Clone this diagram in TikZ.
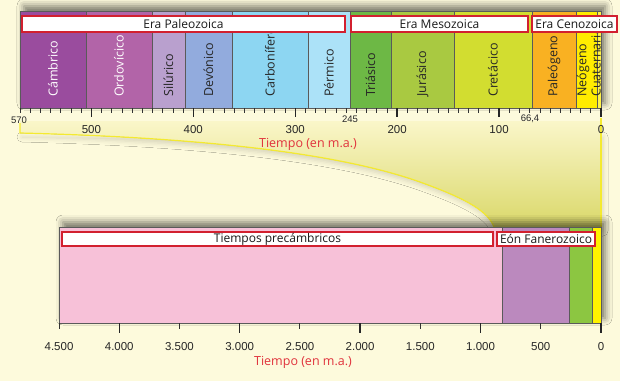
\documentclass[tikz,border=0pt]{standalone}
\usepackage{fontspec}
\setmainfont{Open Sans}
\newfontfamily\numfont{Liberation Sans}
\usetikzlibrary{shadows.blur}
\definecolor{bg}{HTML}{FDFADC}
\definecolor{funtop}{HTML}{FBF7CC}
\definecolor{funbot}{HTML}{DAD86A}
\definecolor{funline}{HTML}{F4EA30}
\definecolor{cCam}{HTML}{9A4C9E}
\definecolor{cOrd}{HTML}{B264A8}
\definecolor{cSil}{HTML}{B9A0CE}
\definecolor{cDev}{HTML}{92ABDD}
\definecolor{cCar}{HTML}{8DD6F2}
\definecolor{cPer}{HTML}{ACE2F8}
\definecolor{cTri}{HTML}{6DB845}
\definecolor{cJur}{HTML}{A9C941}
\definecolor{cCre}{HTML}{D2DD30}
\definecolor{cPal}{HTML}{F9B122}
\definecolor{cNeo}{HTML}{FFEC00}
\definecolor{cCua}{HTML}{FFF34A}
\definecolor{cPre}{HTML}{F7C1D8}
\definecolor{cFan}{HTML}{BB89BE}
\definecolor{cFg}{HTML}{8CC641}
\definecolor{cFy}{HTML}{FFF200}
\definecolor{boxred}{HTML}{D2202F}
\definecolor{txtred}{HTML}{E0323C}
\definecolor{edge}{HTML}{5A5A5A}
\tikzset{
  period/.style={draw=edge, line width=0.6pt, anchor=north west, inner sep=0, outer sep=0},
  vlab/.style={rotate=90, anchor=west, inner sep=0, font=\fontsize{12.5}{13}\selectfont, text=black!85},
  erabox/.style={draw=boxred, line width=1.8pt, fill=white, anchor=north west, inner sep=0, outer sep=0},
  eratxt/.style={inner sep=0, font=\fontsize{12}{13}\selectfont, text=black!90},
  tickmin/.style={draw=black!80, line width=0.7pt},
  tickmaj/.style={draw=black!85, line width=1.3pt},
  num/.style={inner sep=0, font=\numfont\fontsize{11.5}{12}\selectfont, text=black!85},
  numsm/.style={inner sep=0, font=\numfont\fontsize{9.5}{10}\selectfont, text=black!85},
  axtitle/.style={inner sep=0, font=\fontsize{12.5}{13}\selectfont, text=txtred},
  shadowed/.style={blur shadow={shadow xshift=4pt, shadow yshift=5pt, shadow blur radius=7pt, shadow opacity=55}}
}
\begin{document}
\begin{tikzpicture}[x=1pt,y=-1pt]
\useasboundingbox (0,0) rectangle (620,381);
\fill[bg] (0,0) rectangle (620,381);

% funnel
\path[blur shadow={shadow xshift=2pt, shadow yshift=-4pt, shadow blur radius=5pt, shadow opacity=15}]
  (20,133) .. controls (180,137) and (330,150) .. (420,182) .. controls (470,200) and (488,212) .. (494,227) -- (601,227) -- (601,133) -- cycle;
\fill[top color=funtop, bottom color=funbot]
  (20,118) -- (20,133) .. controls (180,137) and (330,150) .. (420,182) .. controls (470,200) and (488,212) .. (494,227) -- (601,227) -- (601,118) -- cycle;
\fill[bg] (0,108) rectangle (601,121);
\coordinate (fA) at (20,123);
\coordinate (fB) at (20,133);
\coordinate (fC) at (494,227);
\coordinate (fD) at (601,118);
\coordinate (fE) at (601,227);
\draw[funline, line width=1.2pt] (fA) -- (fB) .. controls (180,137) and (330,150) .. (420,182) .. controls (470,200) and (488,212) .. (fC);
\draw[funline, line width=1.2pt] (fD) -- (fE);

% top bar
\path[shadowed] (20,11) rectangle (601,108);
\node[period, fill=cCam, minimum width=66, minimum height=97] (cam) at (20,11) {};
\node[period, fill=cOrd, minimum width=66, minimum height=97] (ord) at (86,11) {};
\node[period, fill=cSil, minimum width=33, minimum height=97] (sil) at (152,11) {};
\node[period, fill=cDev, minimum width=47, minimum height=97] (dev) at (185,11) {};
\node[period, fill=cCar, minimum width=76, minimum height=97] (car) at (232,11) {};
\node[period, fill=cPer, minimum width=42, minimum height=97] (per) at (308,11) {};
\node[period, fill=cTri, minimum width=41, minimum height=97] (tri) at (350,11) {};
\node[period, fill=cJur, minimum width=63, minimum height=97] (jur) at (391,11) {};
\node[period, fill=cCre, minimum width=78, minimum height=97] (cre) at (454,11) {};
\node[period, fill=cPal, minimum width=44, minimum height=97] (pal) at (532,11) {};
\node[period, fill=cNeo, minimum width=21, minimum height=97] (neo) at (576,11) {};
\node[period, fill=cCua, minimum width=4, minimum height=97] (cua) at (597,11) {};

\node[vlab, text=white] (lcam) at (53,97) {Cámbrico};
\node[vlab, text=white] (lord) at (119,97) {Ordovícico};
\node[vlab] (lsil) at (168.5,97) {Silúrico};
\node[vlab] (ldev) at (208.5,97) {Devónico};
\node[vlab] (lcar) at (270,97) {Carbonífero};
\node[vlab] (lper) at (329,97) {Pérmico};
\node[vlab] (ltri) at (370.5,97) {Triásico};
\node[vlab] (ljur) at (422.5,97) {Jurásico};
\node[vlab] (lcre) at (493,97) {Cretácico};
\node[vlab] (lpal) at (554,97) {Paleógeno};
\node[vlab] (lneo) at (583,97) {Neógeno};
\node[vlab] (lcua) at (596,97) {Cuaternario};

\node[erabox, minimum width=323, minimum height=16] (paleo) at (22,16) {};
\node[eratxt] at (paleo.center) {Era Paleozoica};
\node[erabox, minimum width=177, minimum height=16] (meso) at (351,16) {};
\node[eratxt] at (meso.center) {Era Mesozoica};
\node[erabox, minimum width=85, minimum height=16] (ceno) at (532,16) {};
\node[eratxt] at (ceno.center) {Era Cenozoica};

% top axis
\foreach \t in {0,10,...,570} \draw[tickmin] ({601-1.01930*\t},108) -- ++(0,5);
\foreach \t in {0,100,...,500} \draw[tickmaj] ({601-1.01930*\t},108) -- ++(0,9);
\foreach \t in {100,200,300,400,500} \node[num] at ({601-1.01930*\t},130) {\t};
\node[num] (z0) at (601,130) {0};
\node[numsm] (n570) at (19,120) {570};
\node[numsm] (n245) at (350,119) {245};
\node[numsm] (n664) at (530,119) {66,4};
\node[axtitle] (t1) at (308,144) {Tiempo (en m.a.)};

% bottom bar
\path[shadowed] (59,227) rectangle (601,323);
\node[period, fill=cPre, minimum width=443, minimum height=96] (pre) at (59,227) {};
\node[period, fill=cFan, minimum width=67, minimum height=96] (fan) at (502,227) {};
\node[period, fill=cFg, minimum width=23, minimum height=96] (fg) at (569,227) {};
\node[period, fill=cFy, minimum width=9, minimum height=96] (fy) at (592,227) {};
\node[erabox, minimum width=431, minimum height=14] (pbox) at (62,232) {};
\node[eratxt] at (pbox.center) {Tiempos precámbricos};
\node[erabox, minimum width=98, minimum height=14] (fbox) at (497,232) {};
\node[eratxt] at (fbox.center) {Eón Fanerozoico};

% bottom axis
\foreach \t in {500,1500,2500,3500,4500} \draw[tickmin, line width=1pt] ({601-0.120444*\t},323) -- ++(0,6);
\foreach \t in {0,1000,2000,3000,4000} \draw[tickmaj, line width=1.5pt] ({601-0.120444*\t},323) -- ++(0,10);
\foreach \t/\l in {4500/4.500,4000/4.000,3500/3.500,3000/3.000,2500/2.500,2000/2.000,1500/1.500,1000/1.000,500/500,0/0}
  \node[num] at ({601-0.120444*\t},347) {\l};
\node[axtitle] (t2) at (303,362) {Tiempo (en m.a.)};
\end{tikzpicture}
\end{document}
